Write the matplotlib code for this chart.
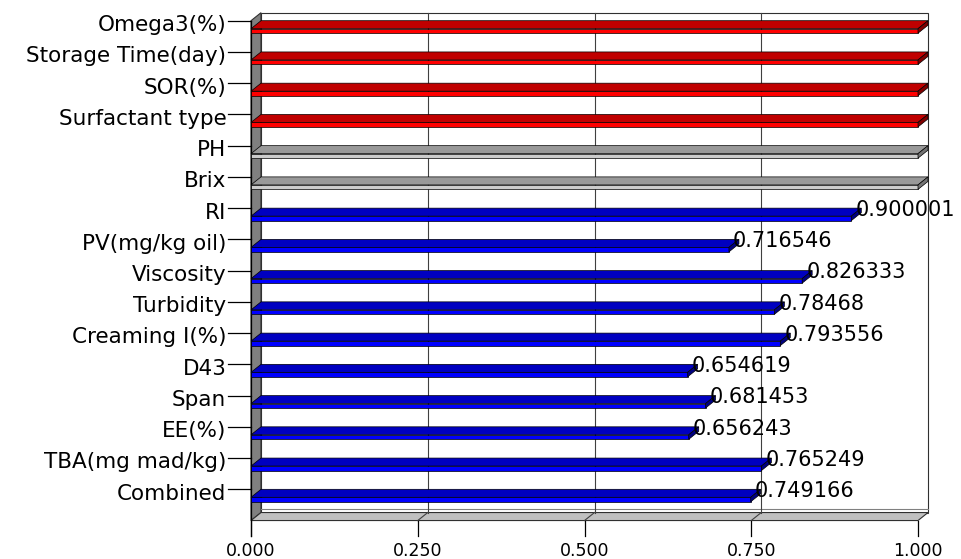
import numpy as np
import matplotlib.pyplot as plt

categories = ['Omega3(%)', 'Storage Time(day)', 'SOR(%)', 'Surfactant type', 'PH', 'Brix',
              'RI', 'PV(mg/kg oil)', 'Viscosity', 'Turbidity', 'Creaming I(%)', 'D43',
              'Span', 'EE(%)', 'TBA(mg mad/kg)', 'Combined']
values = [1.0, 1.0, 1.0, 1.0, 1.0, 1.0,
          0.900001, 0.716546, 0.826333, 0.78468, 0.793556, 0.654619,
          0.681453, 0.656243, 0.765249, 0.749166]
groups = ['red', 'red', 'red', 'red', 'gray', 'gray',
          'blue', 'blue', 'blue', 'blue', 'blue', 'blue',
          'blue', 'blue', 'blue', 'blue']
show_label = [False] * 6 + [True] * 10
xticks = [0.0, 0.25, 0.5, 0.75, 1.0]
xtick_labels = ['0.000', '0.250', '0.500', '0.750', '1.000']

# front / top / end colours of the 3d bars
palette = {
    'red': ('#ff0000', '#c00000', '#800000'),
    'blue': ('#0000ff', '#0000c0', '#000080'),
    'gray': ('#cccccc', '#999999', '#737373'),
}

fig = plt.figure(figsize=(9.62, 5.59), dpi=100)
ax = fig.add_axes([0, 0, 1, 1])
# one x unit = 667 px, one row = 31.24 px
ax.set_xlim(-251 / 667, (962 - 251) / 667)
ax.set_ylim((559 - 20.7) / 31.24, -20.7 / 31.24)
ax.axis('off')

dx = 10 / 667      # depth offset
dy = 8 / 31.24
h = 4.5 / 31.24    # bar front face height
n = len(categories)
floor_y = n
edge = '#303030'

# left side wall
ax.fill([0, dx, dx, 0], [0, -dy, floor_y - dy, floor_y], color='#808080', ec=edge, lw=0.8, zorder=1)
# back wall
ax.fill([dx, 1 + dx, 1 + dx, dx], [-dy, -dy, floor_y - dy, floor_y - dy], color='white', ec=edge, lw=0.8, zorder=1)
# floor
ax.fill([0, 1, 1 + dx, dx], [floor_y, floor_y, floor_y - dy, floor_y - dy], color='#c0c0c0', ec=edge, lw=0.8, zorder=1)
ax.plot([dx, 1 + dx], [floor_y - dy - 0.1, floor_y - dy - 0.1], color='#808080', lw=0.8, zorder=1)

for t, lab in zip(xticks, xtick_labels):
    if 0 < t < 1:
        ax.plot([t + dx, t + dx], [-dy, floor_y - dy], color='#404040', lw=0.8, zorder=2)
        ax.plot([t, t + dx], [floor_y, floor_y - dy], color='#404040', lw=0.8, zorder=2)
    ax.plot([t, t], [floor_y, floor_y + 0.48], color='black', lw=0.9, zorder=2)
    ax.text(t, floor_y + 0.96, lab, ha='center', va='center', fontsize=12.5, color='black')

ax.plot([0, 0], [0, floor_y + 0.48], color='black', lw=0.9, zorder=3)

for r, (cat, v, g, sl) in enumerate(zip(categories, values, groups, show_label)):
    front, top, end = palette[g]
    y0 = r + dy
    ax.plot([-0.034, 0], [r, r], color='black', lw=0.9, zorder=3)
    ax.text(-0.037, r + 0.14, cat, ha='right', va='center', fontsize=15.5, color='black')
    # top face
    ax.fill([0, v, v + dx, dx], [y0, y0, r, r], color=top, ec='black', lw=0.5, zorder=4)
    # front face
    ax.fill([0, v, v, 0], [y0, y0, y0 + h, y0 + h], color=front, ec='black', lw=0.5, zorder=4)
    # end face
    ax.fill([v, v + dx, v + dx, v], [y0, r, r + h, y0 + h], color=end, ec='black', lw=0.5, zorder=4)
    if sl:
        ax.text(v + 0.006, r + 0.06, f'{v:g}', ha='left', va='center', fontsize=15, color='black', zorder=5)

fig.savefig('out.png', dpi=100)
